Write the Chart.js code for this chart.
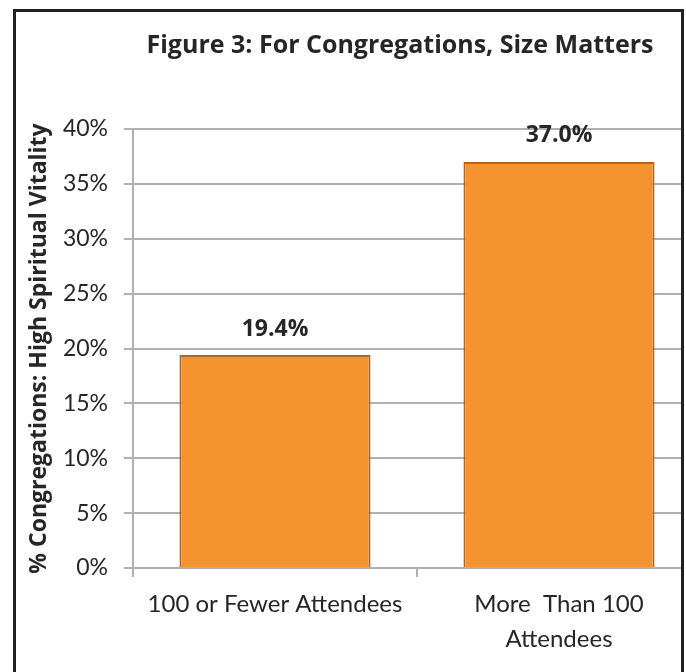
<!DOCTYPE html>
<html>
<head>
<meta charset="utf-8">
<script src="https://cdn.jsdelivr.net/npm/chart.js@4.4.1/dist/chart.umd.min.js"></script>
<style>
  html, body { margin: 0; padding: 0; background: #fff; overflow: hidden; }
  #frame {
    position: absolute; left: 13px; top: 9px;
    width: 665px; height: 660px;
    border: 3px solid #231f20; border-bottom: none;
    overflow: hidden;
  }
  #chart { position: absolute; left: 0; top: 0; }
</style>
</head>
<body>
<div id="frame">
  <canvas id="chart" width="720" height="660"></canvas>
</div>
<script>
// data
const categories = ['100 or Fewer Attendees', ['More  Than 100', 'Attendees']];
const vitality = [19.4, 37.0];
const yTicks = [0, 5, 10, 15, 20, 25, 30, 35, 40];
const chartTitle = 'Figure 3: For Congregations, Size Matters';

const FONT = 'Lato, "Open Sans", sans-serif';
const BOLD = '"Open Sans", Lato, sans-serif';
const TEXT = '#262626';
const GRID = '#b0b0b0';

// title (offset from the plot centre like the original) and labels above the bars
const extraText = {
    id: 'extraText',
    afterDatasetsDraw(chart) {
        const ctx = chart.ctx;
        const area = chart.chartArea;
        const meta = chart.getDatasetMeta(0);
        ctx.save();
        ctx.fillStyle = TEXT;
        ctx.textAlign = 'center';
        ctx.textBaseline = 'middle';

        ctx.font = 'bold 25px ' + BOLD;
        ctx.fillText(chartTitle, (area.left + area.right) / 2 - 17, 34);

        ctx.font = 'bold 23px ' + BOLD;
        meta.data.forEach((bar, i) => {
            ctx.fillText(vitality[i].toFixed(1) + '%', bar.x, bar.y - 26);
        });
        ctx.restore();
    }
};

new Chart(document.getElementById('chart'), {
    type: 'bar',
    data: {
        labels: categories,
        datasets: [{
            data: vitality,
            backgroundColor: '#f5932f',
            borderColor: '#b0662a',
            borderWidth: 2,
            categoryPercentage: 1,
            barPercentage: 0.673
        }]
    },
    options: {
        responsive: false,
        animation: false,
        layout: { padding: { left: 0, right: 35, top: 117, bottom: 0 } },
        plugins: {
            legend: { display: false },
            tooltip: { enabled: false },
            title: { display: false }
        },
        scales: {
            x: {
                grid: {
                    offset: true,
                    drawOnChartArea: false,
                    drawTicks: true,
                    tickLength: 9,
                    color: GRID,
                    lineWidth: 2
                },
                border: { color: GRID, width: 2 },
                ticks: {
                    color: TEXT,
                    padding: 10,
                    maxRotation: 0,
                    autoSkip: false,
                    font: { family: FONT, size: 24, lineHeight: 1.45 }
                },
                afterFit(scale) { scale.height = 104; }
            },
            y: {
                min: 0,
                max: 40,
                afterBuildTicks(scale) { scale.ticks = yTicks.map(v => ({ value: v })); },
                grid: { color: GRID, lineWidth: 2, tickLength: 9 },
                border: { color: GRID, width: 2 },
                ticks: {
                    color: TEXT,
                    padding: 16,
                    font: { family: FONT, size: 23 },
                    callback: v => v + '%'
                },
                title: {
                    display: true,
                    text: '% Congregations: High Spiritual Vitality',
                    color: TEXT,
                    font: { family: BOLD, size: 23, weight: 'bold', lineHeight: 1.2 },
                    padding: { top: 10, bottom: 0 }
                },
                afterFit(scale) { scale.width = 117; }
            }
        }
    },
    plugins: [extraText]
});
</script>
</body>
</html>
